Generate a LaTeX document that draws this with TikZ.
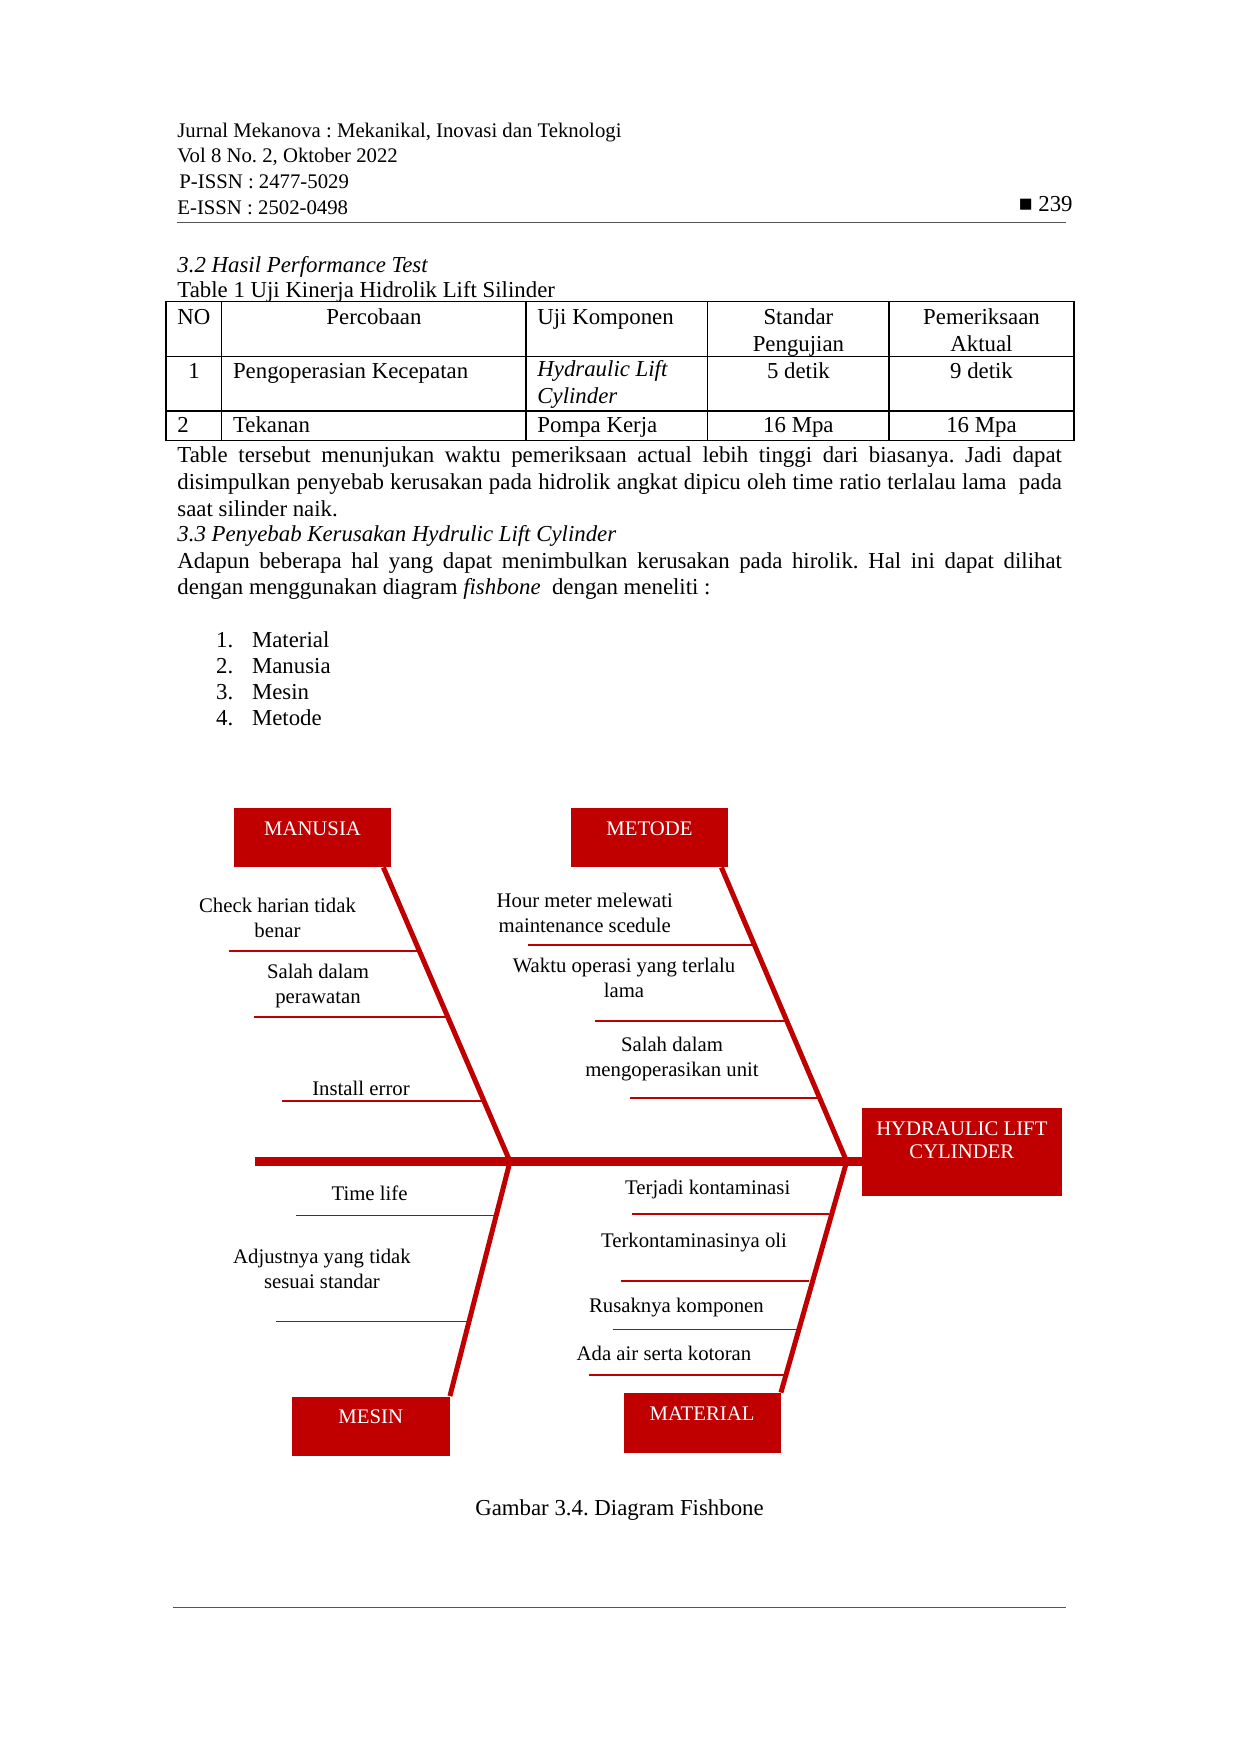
\documentclass[tikz,border=0pt]{standalone}
\usepackage{fontspec}
\setmainfont{Liberation Serif}
\frenchspacing
\newdimen\px \px=0.16935mm
\definecolor{fishred}{HTML}{C00000}
\definecolor{rulegray}{HTML}{555555}

\begin{document}
\begin{tikzpicture}[x=0.16935mm, y=-0.16935mm,
  every node/.style={inner sep=0pt, font=\fontsize{11}{13}\selectfont},
  txt/.style={anchor=base west},
  ctxt/.style={anchor=base},
  hdr/.style={anchor=base west, font=\fontsize{10}{12}\selectfont},
  catbox/.style={fill=fishred, text=white, font=\fontsize{10}{11.5}\selectfont,
    minimum width=157\px, text height=27\px, text depth=32\px},
  cause/.style={anchor=base, align=center, font=\fontsize{10}{11.7}\selectfont},
  hrule/.style={rulegray, line width=0.75pt},
  grid/.style={line width=0.5pt},
  spine/.style={fishred, line width=4.2pt},
  bone/.style={fishred, line width=2.4pt},
  twig/.style={fishred, line width=0.8pt}]
\useasboundingbox (0,0) rectangle (1240,1754);

% page header
\node[hdr] (jtitle) at (177,137) {Jurnal Mekanova : Mekanikal, Inovasi dan Teknologi};
\node[hdr] (jvol) at (177,162) {Vol 8 No. 2, Oktober 2022};
\node[hdr] (pissn) at (179,188) {P-ISSN : 2477-5029};
\node[hdr] (eissn) at (177,214) {E-ISSN : 2502-0498};
\node[ctxt, anchor=base east] (pageno) at (1073,211) {■ 239};
\draw[hrule] (176.7,222.5) -- (1065.6,222.5);

% 3.2 and the table (multi-line nodes sit on their last line)
\node[txt, font=\fontsize{11}{13}\selectfont\itshape] (sec32) at (177,272) {3.2 Hasil Performance Test};
\node[txt] (tabcap) at (177,297) {Table 1 Uji Kinerja Hidrolik Lift Silinder};
\draw[grid] (166,301.7) rectangle (1074,440.5);
\foreach \y in {356.5,411} \draw[grid] (166,\y) -- (1074,\y);
\foreach \x in {221.7,526,707.7,889} \draw[grid] (\x,301.7) -- (\x,440.5);
\node[txt] (hno) at (177,324.5) {NO};
\node[ctxt] (hperc) at (374,324.5) {Percobaan};
\node[txt] (huji) at (537,324.5) {Uji Komponen};
\node[ctxt, align=center] (hstd) at (798.4,351) {Standar\\Pengujian};
\node[ctxt, align=center] (hakt) at (981.5,351) {Pemeriksaan\\Aktual};
\node[ctxt] (no1) at (194,378) {1};
\node[txt] (perc1) at (232.6,378) {Pengoperasian Kecepatan};
\node[txt, align=left, font=\fontsize{11}{13}\selectfont\itshape] (uji1) at (537,403) {Hydraulic Lift\\Cylinder};
\node[ctxt] (std1) at (798.4,378) {5 detik};
\node[ctxt] (akt1) at (981.5,378) {9 detik};
\node[txt] (no2) at (177,432) {2};
\node[txt] (perc2) at (232.6,432) {Tekanan};
\node[txt] (uji2) at (537,432) {Pompa Kerja};
\node[ctxt] (std2) at (798.4,432) {16 Mpa};
\node[ctxt] (akt2) at (981.5,432) {16 Mpa};

% body text
\node[txt] (para1) at (177,462) {\makebox[884.5\px][s]{Table tersebut menunjukan waktu pemeriksaan actual lebih tinggi dari biasanya. Jadi dapat}};
\node[txt] (para2) at (177,489) {\makebox[884.5\px][s]{disimpulkan penyebab kerusakan pada hidrolik angkat dipicu oleh time ratio terlalau lama\ \ pada}};
\node[txt] (para3) at (177,516) {saat silinder naik.};
\node[txt, font=\fontsize{11}{13}\selectfont\itshape] (sec33) at (177,541.5) {3.3 Penyebab Kerusakan Hydrulic Lift Cylinder};
\node[txt] (para4) at (177,568) {\makebox[884.5\px][s]{Adapun beberapa hal yang dapat menimbulkan kerusakan pada hirolik. Hal ini dapat dilihat}};
\node[txt] (para5) at (177,594) {dengan menggunakan diagram \textit{fishbone}\ \ dengan meneliti :};
\foreach \item [count=\i] in {Material,Manusia,Mesin,Metode}
  {\node[txt] (num\i) at (215.8,{647+26.3*(\i-1)}) {\i.};
   \node[txt] (item\i) at (251.6,{647+26.3*(\i-1)}) {\item};}

% fishbone
\node[catbox] (manusia) at (312.5,837.5) {MANUSIA};
\node[catbox] (metode) at (649.5,837.5) {METODE};
\node[catbox, minimum width=157.5\px, text depth=32.5\px] (mesin) at (370.75,1426.25) {MESIN};
\node[catbox, text depth=32.5\px] (material) at (702,1422.75) {MATERIAL};
\node[catbox, minimum width=199.7\px, text depth=61\px] (head) at (961.85,1152)
  {\parbox[t]{190\px}{\centering HYDRAULIC LIFT\\CYLINDER}};

\coordinate (tail) at (255,1161.5);
\coordinate (j1) at (510,1161.5);
\coordinate (j2) at (846.7,1161.5);
\draw[spine] (tail) -- (tail -| head.west);
\draw[bone] ([xshift=-8\px]manusia.south east) -- (j1) -- (mesin.north east);
\draw[bone] ([xshift=-7\px]metode.south east) -- (j2) -- (material.north east);

\draw[twig] (229,951) -- (419,951);
\draw[twig] (254,1017) -- (447,1017);
\draw[twig] (282,1101) -- (483,1101);
\draw[twig] (528,944.8) -- (754,944.8);
\draw[twig] (595,1021) -- (786,1021);
\draw[twig] (629.5,1098) -- (819,1098);
\draw[twig] (296,1215.4) -- (496,1215.4);
\draw[twig] (276,1321.6) -- (469,1321.6);
\draw[twig] (632,1214) -- (829,1214);
\draw[twig] (620.5,1281) -- (809,1281);
\draw[twig] (612.7,1329.4) -- (797,1329.4);
\draw[twig] (589,1375) -- (784,1375);

\node[cause] (check) at (277.5,937) {Check harian tidak\\benar};
\node[cause] (rawat) at (318,1003) {Salah dalam\\perawatan};
\node[cause] (install) at (361,1095) {Install error};
\node[cause] (hour) at (584.8,932) {Hour meter melewati\\maintenance scedule};
\node[cause] (waktu) at (624,997) {Waktu operasi yang terlalu\\lama};
\node[cause] (operasi) at (672,1076) {Salah dalam\\mengoperasikan unit};
\node[cause] (timelife) at (369.5,1200) {Time life};
\node[cause] (adjust) at (322,1288) {Adjustnya yang tidak\\sesuai standar};
\node[cause] (kontam) at (707.7,1194) {Terjadi kontaminasi};
\node[cause] (oli) at (694,1247) {Terkontaminasinya oli};
\node[cause] (rusak) at (676.4,1312) {Rusaknya komponen};
\node[cause] (kotor) at (664,1360) {Ada air serta kotoran};

\node[ctxt] (caption) at (619.5,1515) {Gambar 3.4. Diagram Fishbone};
\draw[hrule] (173,1607.5) -- (1066,1607.5);
\end{tikzpicture}
\end{document}
